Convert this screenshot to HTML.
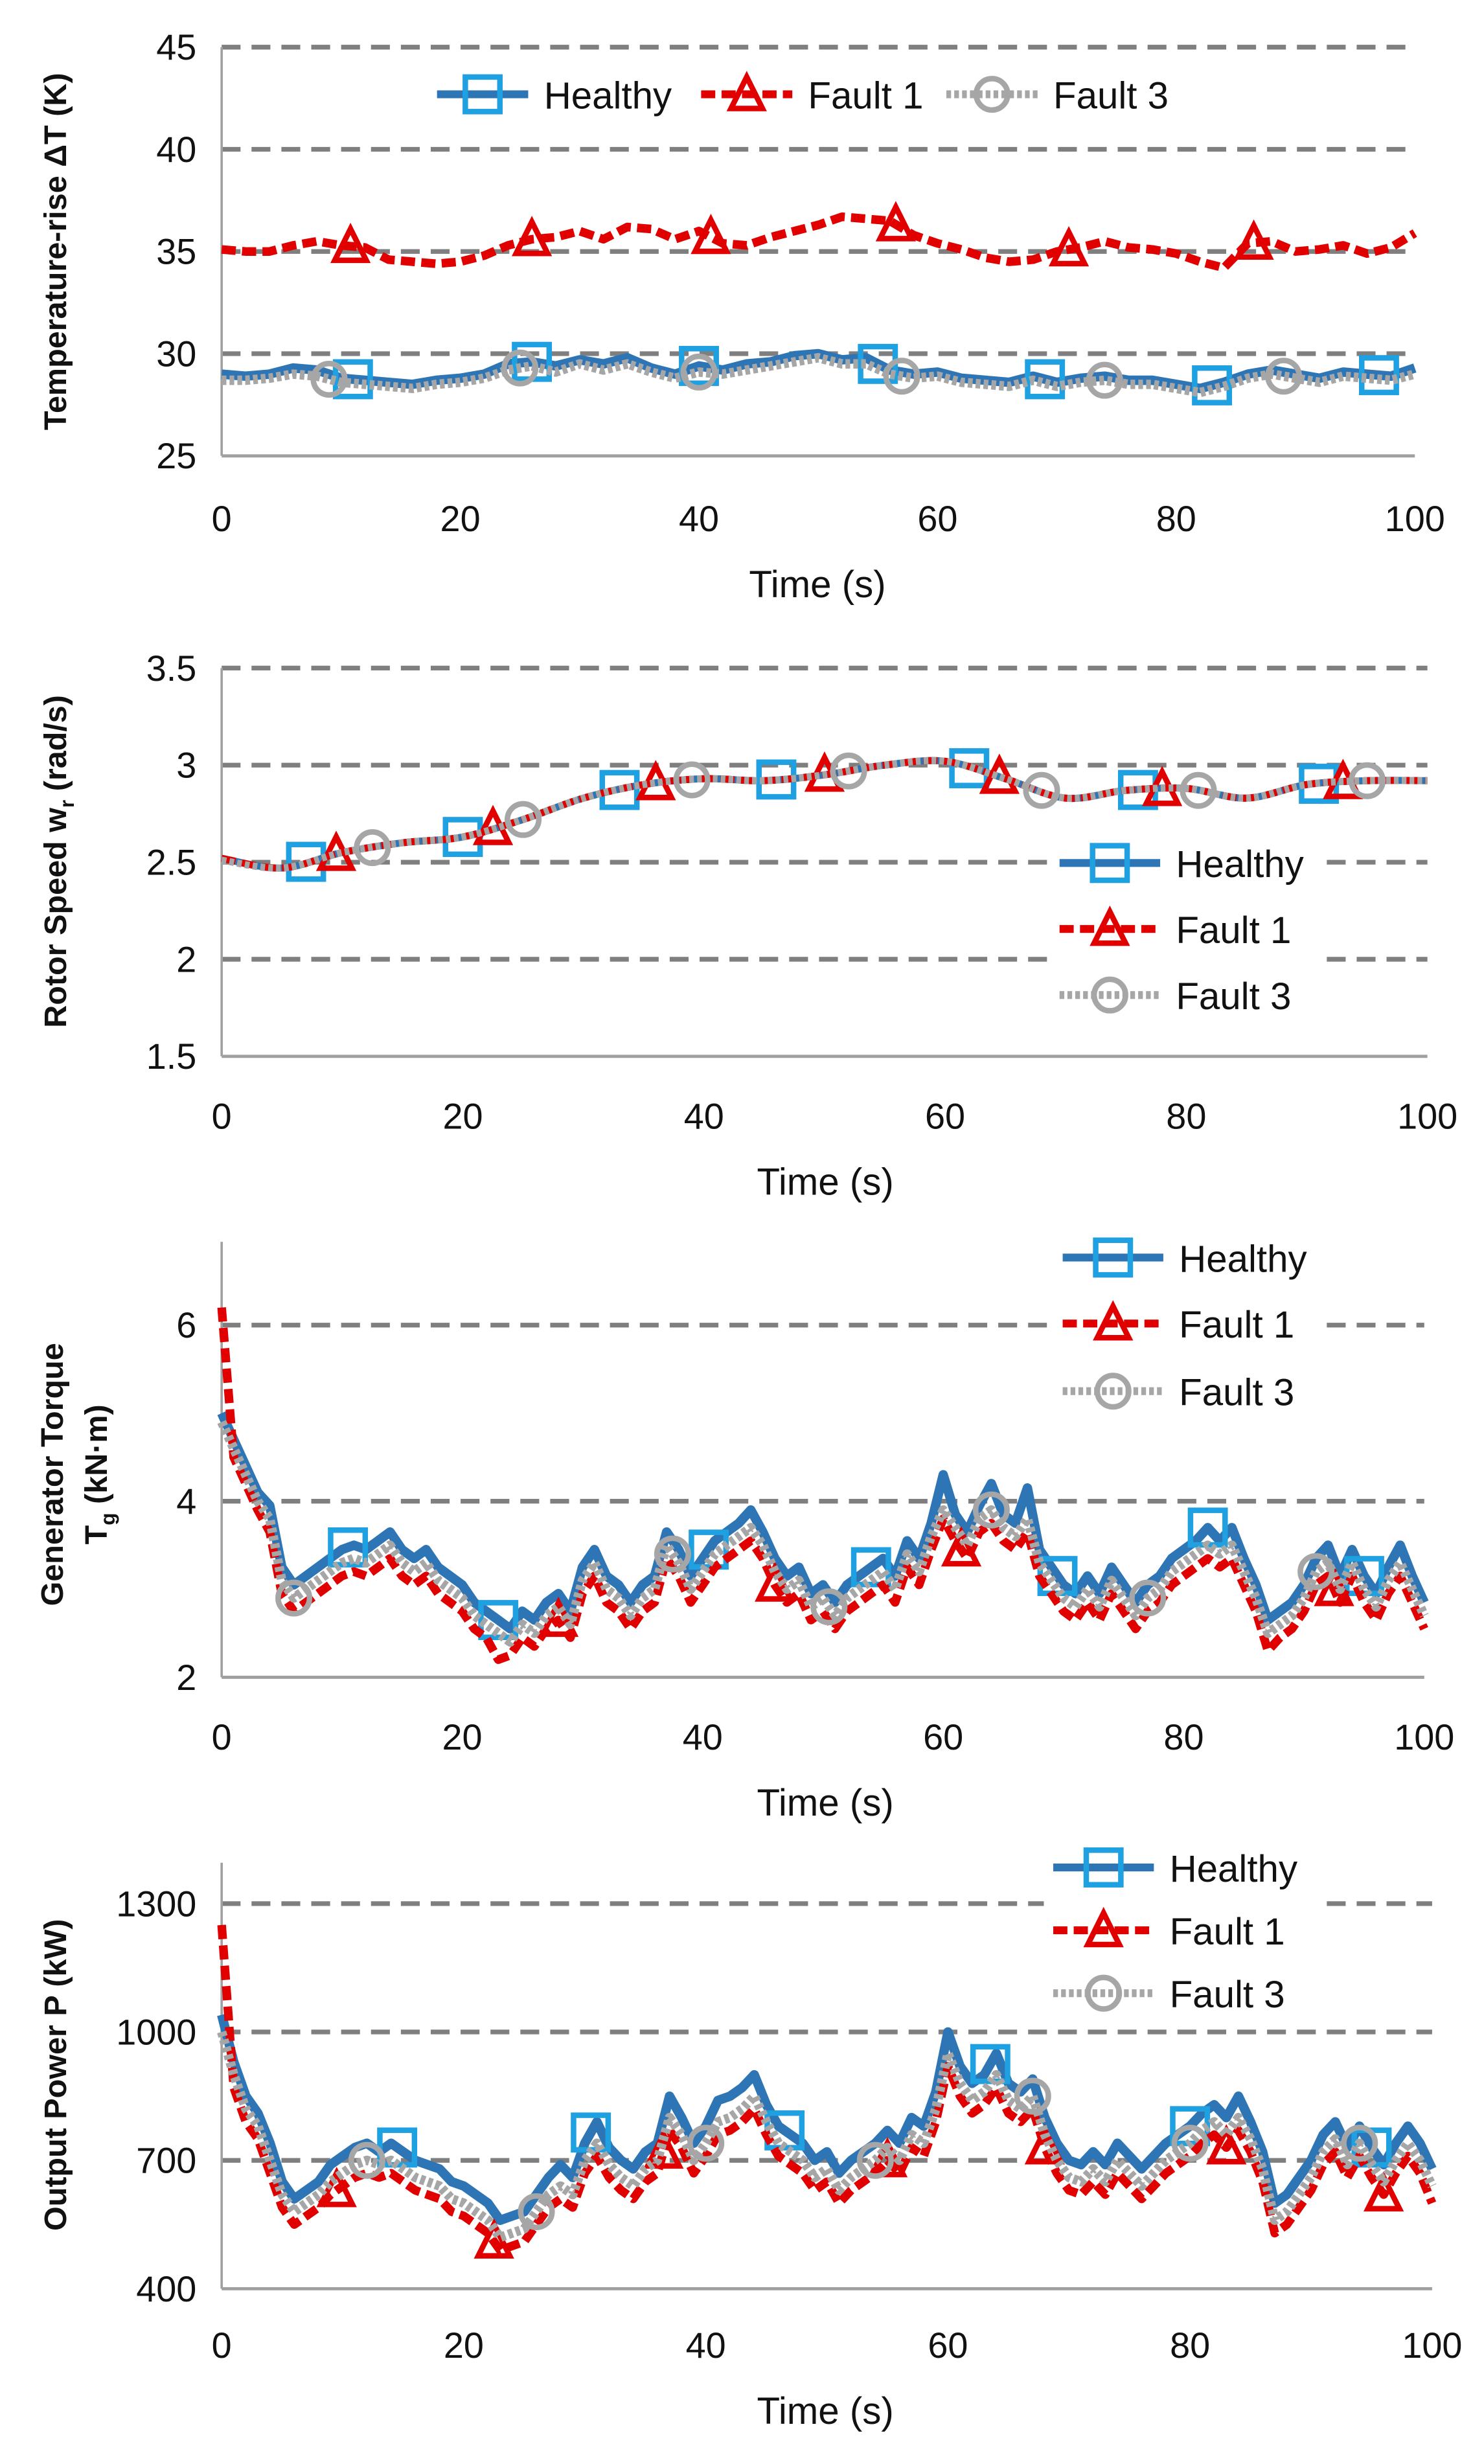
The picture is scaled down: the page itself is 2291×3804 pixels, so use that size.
<!DOCTYPE html>
<html><head><meta charset="utf-8"><style>
html,body{margin:0;padding:0;background:#fff}
svg{display:block}
text{font-family:"Liberation Sans Narrow","Liberation Sans",sans-serif;fill:#111}
.tk{font-size:23px}
.tt{font-size:24px}
.yl{font-family:"Liberation Sans",sans-serif;font-weight:bold;font-size:20px}
.lg{font-size:24px}
</style></head><body>
<svg id="fig" width="2291" height="3804" viewBox="0 0 944 1567.5" preserveAspectRatio="none" xmlns="http://www.w3.org/2000/svg"></svg>
<script>
// ---- Panel 1 data (t = 0..100 step 2) ----
const p1Healthy=[29.0,28.9,29.0,29.3,29.2,28.8,28.7,28.6,28.5,28.7,28.8,29.0,29.5,29.6,29.4,29.7,29.5,29.8,29.3,29.0,29.4,29.2,29.5,29.6,29.9,30.0,29.7,29.8,29.2,29.0,29.1,28.8,28.7,28.6,28.9,28.6,28.8,28.9,28.7,28.7,28.5,28.3,28.6,29.0,29.2,29.0,28.8,29.1,29.0,28.9,29.3];
const p1Fault1=[35.1,35.0,35.0,35.3,35.5,35.3,35.2,34.6,34.5,34.4,34.5,34.8,35.3,35.6,35.7,36.0,35.6,36.2,36.1,35.6,36.0,35.4,35.3,35.7,36.0,36.3,36.7,36.6,36.5,35.8,35.4,35.1,34.7,34.5,34.6,35.0,35.2,35.5,35.2,35.1,34.9,34.5,34.2,35.4,35.5,35.0,35.1,35.3,34.9,35.2,35.9];
const p1Fault3=[28.7,28.7,28.8,29.0,28.9,28.6,28.5,28.4,28.3,28.5,28.6,28.8,29.2,29.4,29.1,29.5,29.2,29.5,29.1,28.8,29.1,29.0,29.2,29.4,29.6,29.8,29.5,29.5,29.0,28.8,28.9,28.6,28.5,28.4,28.7,28.4,28.6,28.7,28.5,28.5,28.3,28.1,28.4,28.8,29.0,28.8,28.6,28.9,28.8,28.7,29.0];
const p1Ticks=[25,30,35,40,45];
// ---- Panel 2 data (t = 0..100 step 5) ----
const p2Healthy=[2.52,2.47,2.55,2.60,2.63,2.72,2.83,2.90,2.93,2.92,2.95,3.00,3.02,2.93,2.83,2.87,2.88,2.83,2.90,2.92,2.92];
const p2Fault1=[2.52,2.47,2.55,2.60,2.63,2.72,2.83,2.90,2.93,2.92,2.95,3.00,3.02,2.93,2.83,2.87,2.88,2.83,2.90,2.92,2.92];
const p2Fault3=[2.51,2.47,2.55,2.60,2.63,2.72,2.83,2.90,2.93,2.92,2.95,3.00,3.02,2.93,2.83,2.87,2.88,2.83,2.90,2.92,2.92];
const p2Ticks=[1.5,2,2.5,3,3.5];
// ---- Panel 3 data (t = 0..100 step 1) ----
const p3Healthy=[5.0,4.7,4.4,4.1,3.95,3.25,3.05,3.15,3.25,3.35,3.45,3.5,3.45,3.55,3.65,3.45,3.35,3.45,3.25,3.15,3.05,2.85,2.75,2.65,2.55,2.75,2.65,2.85,2.95,2.75,3.25,3.45,3.15,3.05,2.85,3.05,3.15,3.65,3.45,3.15,3.35,3.55,3.65,3.75,3.9,3.65,3.35,3.15,3.25,2.95,3.05,2.85,3.05,3.15,3.25,3.35,3.15,3.55,3.35,3.75,4.3,3.85,3.65,3.95,4.2,3.85,3.75,4.15,3.45,3.25,3.05,2.95,3.15,2.95,3.25,3.05,2.85,3.05,3.15,3.35,3.45,3.55,3.7,3.55,3.7,3.35,3.05,2.65,2.75,2.85,3.05,3.35,3.5,3.15,3.45,3.15,2.95,3.25,3.5,3.15,2.85];
const p3Fault1=[6.2,4.5,4.2,3.9,3.65,2.95,2.75,2.85,2.95,3.05,3.15,3.2,3.15,3.25,3.35,3.15,3.05,3.15,2.95,2.85,2.75,2.55,2.45,2.2,2.25,2.45,2.35,2.55,2.65,2.45,2.95,3.15,2.85,2.75,2.55,2.75,2.85,3.35,3.15,2.85,3.05,3.25,3.35,3.45,3.55,3.35,3.05,2.85,2.95,2.65,2.75,2.55,2.75,2.85,2.95,3.05,2.85,3.25,3.05,3.45,3.8,3.55,3.35,3.65,3.75,3.55,3.45,3.65,3.15,2.95,2.75,2.65,2.85,2.65,2.95,2.75,2.55,2.75,2.85,3.05,3.15,3.25,3.35,3.25,3.35,3.05,2.75,2.3,2.45,2.55,2.75,3.05,3.15,2.85,3.15,2.85,2.65,2.95,3.15,2.85,2.55];
const p3Fault3=[4.9,4.6,4.3,4.0,3.8,3.1,2.9,3.0,3.1,3.2,3.3,3.35,3.3,3.4,3.5,3.3,3.2,3.3,3.1,3.0,2.9,2.7,2.6,2.5,2.4,2.6,2.5,2.7,2.8,2.6,3.1,3.3,3.0,2.9,2.7,2.9,3.0,3.5,3.3,3.0,3.2,3.4,3.5,3.6,3.7,3.5,3.2,3.0,3.1,2.8,2.9,2.7,2.9,3.0,3.1,3.2,3.0,3.4,3.2,3.6,3.9,3.7,3.5,3.8,3.9,3.7,3.6,3.8,3.3,3.1,2.9,2.8,3.0,2.8,3.1,2.9,2.7,2.9,3.0,3.2,3.3,3.4,3.5,3.4,3.5,3.2,2.9,2.5,2.6,2.7,2.9,3.2,3.3,3.0,3.3,3.0,2.8,3.1,3.3,3.0,2.7];
const p3Ticks=[2,4,6];
// ---- Panel 4 data (t = 0..100 step 1) ----
const p4Healthy=[1040,930,850,810,740,650,610,630,650,690,710,730,740,720,740,720,700,690,680,650,640,620,600,560,570,580,620,660,690,660,740,790,730,700,680,720,740,850,800,740,780,840,850,870,900,830,780,760,740,700,720,670,700,720,740,770,740,800,780,860,1000,920,880,900,950,880,860,890,800,740,700,690,720,690,740,710,680,710,740,760,780,810,830,800,850,790,720,600,620,660,700,760,790,730,780,730,690,740,780,740,680];
const p4Fault1=[1250,870,790,750,670,590,550,570,590,620,640,660,670,660,670,650,630,620,610,580,570,550,530,490,500,510,550,590,610,590,670,710,660,630,610,650,670,770,730,670,710,760,770,790,820,760,710,690,670,630,650,600,630,650,670,700,670,730,710,790,920,850,810,830,870,810,790,820,730,670,630,620,650,620,670,640,610,640,670,690,710,740,760,730,770,720,650,530,550,590,630,690,720,660,710,660,620,670,710,670,600];
const p4Fault3=[1000,900,820,780,700,620,580,600,620,650,670,690,700,690,700,680,660,650,640,610,600,580,560,520,530,540,580,620,640,620,700,740,690,660,640,680,700,800,760,700,740,790,800,820,850,790,740,720,700,660,680,630,660,680,700,730,700,760,740,820,950,880,840,860,900,840,820,850,760,700,660,650,680,650,700,670,640,670,700,720,740,770,790,760,800,750,680,560,580,620,660,720,750,690,740,690,650,700,740,700,640];
const p4Ticks=[400,700,1000,1300];
const xTicks=[0,20,40,60,80,100];
// marker times
const p1MkH=[11,26,40,55,69,83,97], p1MkF1=[10.8,26,41,56.5,71,86.5], p1MkF3=[9,25,40,57,74,89];
const p2MkH=[7,20,33,46,62,76,91], p2MkF1=[9.5,22.5,36,50,64.5,78,93], p2MkF3=[12.5,25,39,52,68,81,95];
const p3MkH=[10.5,23,40.5,54,69.5,82,95], p3MkF1=[28,46,61.5,92.5], p3MkF3=[6,37.5,50.5,64,77,91];
const p4MkH=[14.5,30.5,46.5,63.5,80,95], p4MkF1=[9.5,22.5,36.5,55,68,83,96], p4MkF3=[12,26,40,54,67,80,94];

const NS="http://www.w3.org/2000/svg";
const svg=document.getElementById('fig');
function mk(tag,attrs,parent){const e=document.createElementNS(NS,tag);for(const k in attrs)e.setAttribute(k,attrs[k]);(parent||svg).appendChild(e);return e;}
const BLUE="#2e75b6",BLUEM="#1fa0e0",RED="#e00000",GRAY="#a6a6a6";
const styles={
 h:{stroke:BLUE,w:6,dash:null,mc:BLUEM,shape:'sq'},
 f1:{stroke:RED,w:5.5,dash:"9,4",mc:RED,shape:'tri'},
 f3:{stroke:GRAY,w:6,dash:"3,2",mc:GRAY,shape:'cir'}
};
function marker(g,shape,cx,cy,color){
 let m;
 if(shape==='sq') m=mk('rect',{x:cx-11,y:cy-11,width:22,height:22,fill:'none',stroke:color,'stroke-width':3.5},g);
 else if(shape==='tri') m=mk('polygon',{points:`${cx},${cy-11} ${cx+10},${cy+9} ${cx-10},${cy+9}`,fill:'none',stroke:color,'stroke-width':3.5},g);
 else m=mk('circle',{cx:cx,cy:cy,r:10,fill:'none',stroke:color,'stroke-width':3.5},g);
 return m;
}
function interp(arr,step,t){const i=Math.min(Math.floor(t/step),arr.length-2);const f=(t-i*step)/step;return arr[i]+(arr[i+1]-arr[i])*f;}

function panel(cfg){
 const g=mk('g',{});
 
 
 const X=t=>cfg.x0+(cfg.x1-cfg.x0)*t/100;
 const Y=v=>cfg.yb+(cfg.yt-cfg.yb)*(v-cfg.vmin)/(cfg.vmax-cfg.vmin);
 cfg.ticks.forEach(v=>{
  if(v!==cfg.vmin){const l=mk('line',{x1:cfg.x0,x2:cfg.x1,y1:Y(v),y2:Y(v),stroke:'#7f7f7f','stroke-width':3,'stroke-dasharray':'12,7'},g);
  
  }
  const tx=mk('text',{x:cfg.x0-16,y:Y(v)+8,'text-anchor':'end',class:'tk'},g);tx.textContent=v;
  
  
 });
 const ya=mk('line',{x1:cfg.x0,x2:cfg.x0,y1:cfg.axTop,y2:cfg.yb,stroke:'#a0a0a0','stroke-width':1.5},g);
 
 
 const xa=mk('line',{x1:cfg.x0,x2:cfg.x1,y1:cfg.yb,y2:cfg.yb,stroke:'#a0a0a0','stroke-width':2},g);
 
 
 xTicks.forEach(t=>{const tx=mk('text',{x:X(t),y:cfg.xly,'text-anchor':'middle',class:'tk'},g);tx.textContent=t;
  
  });
 const xt=mk('text',{x:cfg.xtx,y:cfg.xly+42,'text-anchor':'middle',class:'tt'},g);xt.textContent='Time (s)';
 
 
 const yt=mk('text',{transform:`translate(${cfg.ylx},${cfg.ylc}) rotate(-90)`,'text-anchor':'middle',class:'yl'},g);
 
 
 yt.innerHTML=cfg.ytitle;
 if(cfg.ytitle2){const y2=mk('text',{transform:`translate(${cfg.ylx+28},${cfg.ylc}) rotate(-90)`,'text-anchor':'middle',class:'yl'},g);y2.innerHTML=cfg.ytitle2;
  
  }
 const lg=mk('g',{},g);
 
 
 if(cfg.legBg)mk('rect',{x:cfg.legBg[0],y:cfg.legBg[1],width:cfg.legBg[2],height:cfg.legBg[3],fill:'#fff'},lg);
 cfg.series.forEach(s=>{
  const st=styles[s.k];
  const pts=s.data.map((v,i)=>[X(i*cfg.step),Y(v)]);
  let d;
  if(cfg.smooth){d=`M${pts[0][0]},${pts[0][1]}`;for(let i=0;i<pts.length-1;i++){const p0=pts[Math.max(i-1,0)],p1=pts[i],p2=pts[i+1],p3=pts[Math.min(i+2,pts.length-1)];d+=` C${p1[0]+(p2[0]-p0[0])/6},${p1[1]+(p2[1]-p0[1])/6} ${p2[0]-(p3[0]-p1[0])/6},${p2[1]-(p3[1]-p1[1])/6} ${p2[0]},${p2[1]}`;}}
  else d='M'+pts.map(p=>p.join(',')).join(' L');
  const a={d:d,fill:'none',stroke:st.stroke,'stroke-width':cfg.smooth?4.5:st.w,'stroke-linejoin':'round'};
  if(st.dash)a['stroke-dasharray']=st.dash;
  const p=mk('path',a,g);
  
  
  s.mk.forEach(t=>{const m=marker(g,st.shape,X(t),Y(interp(s.data,cfg.step,t)),st.mc);
   
   });
 });
 cfg.leg.forEach((L,i)=>{
  const st=styles[L.k];
  const e=mk('g',{},g);
  
  
  const a={x1:L.x,x2:L.x+L.w,y1:L.y,y2:L.y,stroke:st.stroke,'stroke-width':5};
  if(st.dash)a['stroke-dasharray']=st.dash;
  mk('line',a,e);
  marker(e,st.shape,L.x+L.w/2,L.y,st.mc);
  const t=mk('text',{x:L.x+L.w+10,y:L.y+9,class:'lg'},e);t.textContent=L.label;
 });
}

panel({name:'temperature-rise-chart',x0:141,x1:900,yt:30,yb:290,vmin:25,vmax:45,axTop:30,ticks:p1Ticks,step:2,xly:338,xtx:520,ylx:42,ylc:160,
 ytitle:'Temperature-rise ΔT (K)',
 series:[{k:'h',name:'healthy',data:p1Healthy,mk:p1MkH},{k:'f3',name:'fault3',data:p1Fault3,mk:p1MkF3},{k:'f1',name:'fault1',data:p1Fault1,mk:p1MkF1}],
 leg:[{k:'h',label:'Healthy',x:278,w:58,y:60},{k:'f1',label:'Fault 1',x:446,w:58,y:60},{k:'f3',label:'Fault 3',x:602,w:58,y:60}]});

panel({name:'rotor-speed-chart',x0:141,x1:908,yt:425,yb:672,vmin:1.5,vmax:3.5,axTop:425,ticks:p2Ticks,step:5,smooth:true,xly:718,xtx:525,ylx:42,ylc:548,
 ytitle:'Rotor Speed w<tspan font-size="13" dy="5">r</tspan><tspan dy="-5"> (rad/s)</tspan>',
 series:[{k:'h',name:'healthy',data:p2Healthy,mk:p2MkH},{k:'f1',name:'fault1',data:p2Fault1,mk:p2MkF1},{k:'f3',name:'fault3',data:p2Fault3,mk:p2MkF3}],
 legBg:[668,532,170,118],
 leg:[{k:'h',label:'Healthy',x:674,w:64,y:549},{k:'f1',label:'Fault 1',x:674,w:64,y:591},{k:'f3',label:'Fault 3',x:674,w:64,y:633}]});

panel({name:'generator-torque-chart',x0:141,x1:906,yt:843,yb:1067,vmin:2,vmax:6,axTop:790,ticks:p3Ticks,step:1,xly:1113,xtx:525,ylx:40,ylc:938,
 ytitle:'Generator Torque',ytitle2:'T<tspan font-size="13" dy="5">g</tspan><tspan dy="-5"> (kN·m)</tspan>',
 series:[{k:'h',name:'healthy',data:p3Healthy,mk:p3MkH},{k:'f1',name:'fault1',data:p3Fault1,mk:p3MkF1},{k:'f3',name:'fault3',data:p3Fault3,mk:p3MkF3}],
 legBg:[666,780,172,125],
 leg:[{k:'h',label:'Healthy',x:676,w:64,y:800},{k:'f1',label:'Fault 1',x:676,w:64,y:842},{k:'f3',label:'Fault 3',x:676,w:64,y:885}]});

panel({name:'output-power-chart',x0:141,x1:911,yt:1211,yb:1456,vmin:400,vmax:1300,axTop:1185,ticks:p4Ticks,step:1,xly:1500,xtx:525,ylx:42,ylc:1320,
 ytitle:'Output Power P (kW)',
 series:[{k:'h',name:'healthy',data:p4Healthy,mk:p4MkH},{k:'f1',name:'fault1',data:p4Fault1,mk:p4MkF1},{k:'f3',name:'fault3',data:p4Fault3,mk:p4MkF3}],
 legBg:[664,1170,176,116],
 leg:[{k:'h',label:'Healthy',x:670,w:64,y:1188},{k:'f1',label:'Fault 1',x:670,w:64,y:1228},{k:'f3',label:'Fault 3',x:670,w:64,y:1268}]});
</script>
</body></html>
